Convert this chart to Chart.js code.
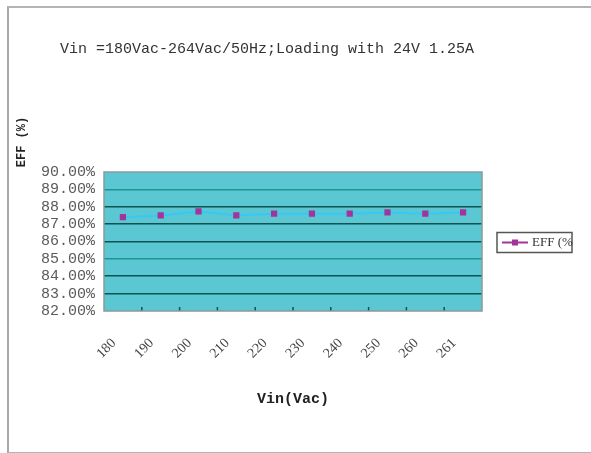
<!DOCTYPE html>
<html>
<head>
<meta charset="utf-8">
<script src="https://cdn.jsdelivr.net/npm/chart.js@4.4.1/dist/chart.umd.min.js"></script>
<style>
  body { margin: 0; background: #fff; }
  #wrap { position: relative; width: 591px; height: 453px; }
  #frame {
    position: absolute; left: 7px; top: 6px; width: 590px; height: 444px;
    border-top: 2px solid #b4b4b4; border-left: 2px solid #a8a8a8; border-bottom: 2px solid #b4b4b4;
  }
  canvas { position: absolute; left: 0; top: 0; }
</style>
</head>
<body>
<div id="wrap">
  <div id="frame"></div>
  <canvas id="myChart" width="591" height="453"></canvas>
</div>
<script>
/* data */
const vinLabels = ['180', '190', '200', '210', '220', '230', '240', '250', '260', '261'];
const effValues = [87.4, 87.5, 87.73, 87.5, 87.6, 87.6, 87.6, 87.67, 87.6, 87.67];
const chartTitle = 'Vin =180Vac-264Vac/50Hz;Loading with 24V 1.25A';
const yTitle = 'EFF (%)';
const xTitle = 'Vin(Vac)';
const legendLabel = 'EFF (%';

/* colors */
let plotBg = '#5bc7d2';
let gridDark = '#0f5252';
let gridTeal = '#1f9494';
let lineBlue = '#36c8f8';
let markPurple = '#a1359c';

const extras = {
  id: 'extras',
  beforeDraw(chart) {
    const { ctx, chartArea: a } = chart;
    ctx.save();
    ctx.fillStyle = plotBg;
    ctx.fillRect(a.left, a.top, a.right - a.left, a.bottom - a.top);
    ctx.restore();
  },
  afterDatasetsDraw(chart) {
    const { ctx, chartArea: a } = chart;
    const xs = chart.scales.x;
    ctx.save();
    // short ticks inside the plot at category edges
    ctx.strokeStyle = gridDark;
    ctx.lineWidth = 1.5;
    for (let i = 1; i < vinLabels.length; i++) {
      const px = (xs.getPixelForValue(i - 1) + xs.getPixelForValue(i)) / 2;
      ctx.beginPath();
      ctx.moveTo(px, a.bottom);
      ctx.lineTo(px, a.bottom - 4);
      ctx.stroke();
    }
    // plot frame
    ctx.strokeStyle = '#8a9a9a';
    ctx.lineWidth = 1.5;
    ctx.strokeRect(a.left, a.top, a.right - a.left, a.bottom - a.top);
    ctx.restore();
  },
  afterDraw(chart) {
    const { ctx, chartArea: a } = chart;
    ctx.save();
    // title
    ctx.fillStyle = '#333';
    ctx.font = '15px "Liberation Mono"';
    ctx.textBaseline = 'middle';
    ctx.textAlign = 'left';
    ctx.fillText(chartTitle, 60, 49);
    // y axis title
    ctx.save();
    ctx.translate(22, 142);
    ctx.rotate(-Math.PI / 2);
    ctx.textAlign = 'center';
    ctx.font = 'bold 12px "Liberation Mono"';
    ctx.fillStyle = '#222';
    ctx.fillText(yTitle, 0, 0);
    ctx.restore();
    // legend
    const lx = a.right + 15;
    const ly = (a.top + a.bottom) / 2 + 1;
    ctx.fillStyle = '#fff';
    ctx.fillRect(lx, ly - 10, 75, 20);
    ctx.strokeStyle = '#555';
    ctx.lineWidth = 1.5;
    ctx.strokeRect(lx, ly - 10, 75, 20);
    ctx.strokeStyle = markPurple;
    ctx.lineWidth = 2;
    ctx.beginPath();
    ctx.moveTo(lx + 5, ly);
    ctx.lineTo(lx + 31, ly);
    ctx.stroke();
    ctx.fillStyle = markPurple;
    ctx.fillRect(lx + 15, ly - 3, 6, 6);
    ctx.fillStyle = '#333';
    ctx.font = '13px "Liberation Serif"';
    ctx.fillText(legendLabel, lx + 35, ly);
    ctx.restore();
  }
};

const data = {
  labels: vinLabels,
  datasets: [
    {
      label: legendLabel,
      data: effValues,
      borderColor: lineBlue,
      borderWidth: 2,
      tension: 0,
      pointStyle: 'rect',
      pointRadius: 3,
      pointBackgroundColor: markPurple,
      pointBorderColor: markPurple,
    },
  ],
};

const chartConfig = {
  type: 'line',
  data,
  options: {
    responsive: false,
    animation: false,
    layout: { padding: { top: 172, right: 109, bottom: 37, left: 0 } },
    plugins: {
      legend: { display: false },
      tooltip: { enabled: false },
    },
    scales: {
      x: {
        offset: true,
        grid: { display: false, drawTicks: false, offset: true },
        border: { display: false },
        afterFit(scale) { scale.height = 105; },
        ticks: {
          autoSkip: false,
          minRotation: 45,
          maxRotation: 45,
          padding: 24,
          labelOffset: -9,
          color: '#444',
          font: { family: '"Liberation Serif"', size: 14 },
        },
        title: {
          display: true,
          text: xTitle,
          color: '#222',
          font: { family: '"Liberation Mono"', size: 15, weight: 'bold' },
          padding: { top: 0, bottom: 8 },
        },
      },
      y: {
        min: 82,
        max: 90,
        afterFit(scale) { scale.width = 104; },
        border: { display: false },
        grid: {
          drawTicks: false,
          lineWidth: 1.6,
          color(c) {
            const v = c.tick ? c.tick.value : 0;
            if (v === 82 || v === 90) return 'rgba(0,0,0,0)';
            return (v === 89 || v === 85) ? gridTeal : gridDark;
          },
        },
        ticks: {
          autoSkip: false,
          stepSize: 1,
          padding: 9,
          color: '#5a5a5a',
          font: { family: '"Liberation Mono"', size: 15 },
          callback: (v) => v.toFixed(2) + '%',
        },
      },
    },
  },
  plugins: [extras],
};

const ctx = document.getElementById('myChart').getContext('2d');
const myChart = new Chart(ctx, chartConfig);
</script>
</body>
</html>
